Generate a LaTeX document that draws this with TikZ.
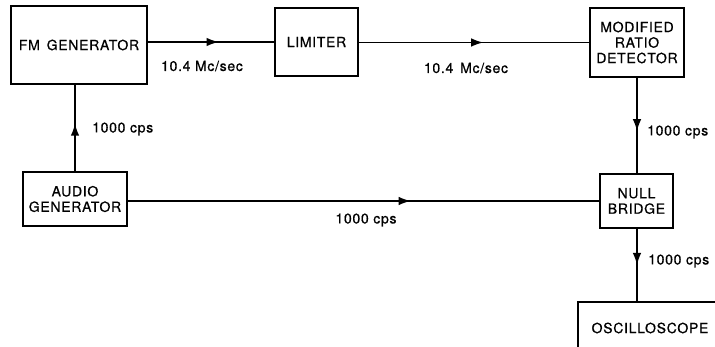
\documentclass[tikz,border=0pt]{standalone}
\usepackage{fontspec}
\newfontfamily\lf[LetterSpace=5,FakeBold=0.6]{TeX Gyre Heros}
\usetikzlibrary{arrows.meta,decorations.markings}
\begin{document}
\begin{tikzpicture}[x=1pt,y=-1pt,
  blk/.style={draw,line width=1.4pt,inner sep=0pt,align=center,font=\lf\fontsize{14}{15.5}\selectfont},
  lbl/.style={font=\lf\fontsize{14}{15.5}\selectfont,inner sep=0pt},
  conn/.style={line width=1.4pt},
  arr/.style={postaction={decorate},decoration={markings,mark=at position #1 with {\arrow{Latex[length=12pt,width=8.5pt]}}}}]
\useasboundingbox (0,0) rectangle (715,347);
\clip (0,0) rectangle (715,347);
\node[blk,minimum width=136pt,minimum height=78pt] (fm) at (79,45) {FM\, GENERATOR};
\node[blk,minimum width=83pt,minimum height=68pt] (lim) at (316.5,42) {LIMITER};
\node[blk,minimum width=94pt,minimum height=69pt] (mrd) at (637,42.5) {MODIFIED\\RATIO\\DETECTOR};
\node[blk,minimum width=104pt,minimum height=54pt] (aud) at (75,199) {AUDIO\\GENERATOR};
\node[blk,minimum width=73pt,minimum height=54pt] (nb) at (636.5,201) {NULL\\BRIDGE};
\node[blk,minimum width=144pt,minimum height=52pt] (osc) at (650,328) {OSCILLOSCOPE};
\draw[conn,arr=0.56] (fm.east |- lim.west) -- (lim.west);
\draw[conn,arr=0.54] (lim.east |- mrd.west) -- (mrd.west);
\draw[conn,arr=0.55] (aud.north) -- (aud.north |- fm.south);
\draw[conn,arr=0.56] (mrd.south) -- (nb.north -| mrd.south);
\draw[conn,arr=0.6] (aud.east |- nb.west) -- (nb.west);
\draw[conn,arr=0.5] (nb.south -| mrd.south) -- (osc.north -| mrd.south);
\node[lbl] (l1) at (202,66) {10.4 Mc/sec};
\node[lbl] (l2) at (466,68) {10.4\, Mc/sec};
\node[lbl,anchor=west] (l3) at (92,129) {1000 cps};
\node[lbl,anchor=west] (l4) at (647,132) {1000 cps};
\node[lbl] (l5) at (366,220) {1000 cps};
\node[lbl,anchor=west] (l6) at (648,261) {1000 cps};
\end{tikzpicture}
\end{document}
